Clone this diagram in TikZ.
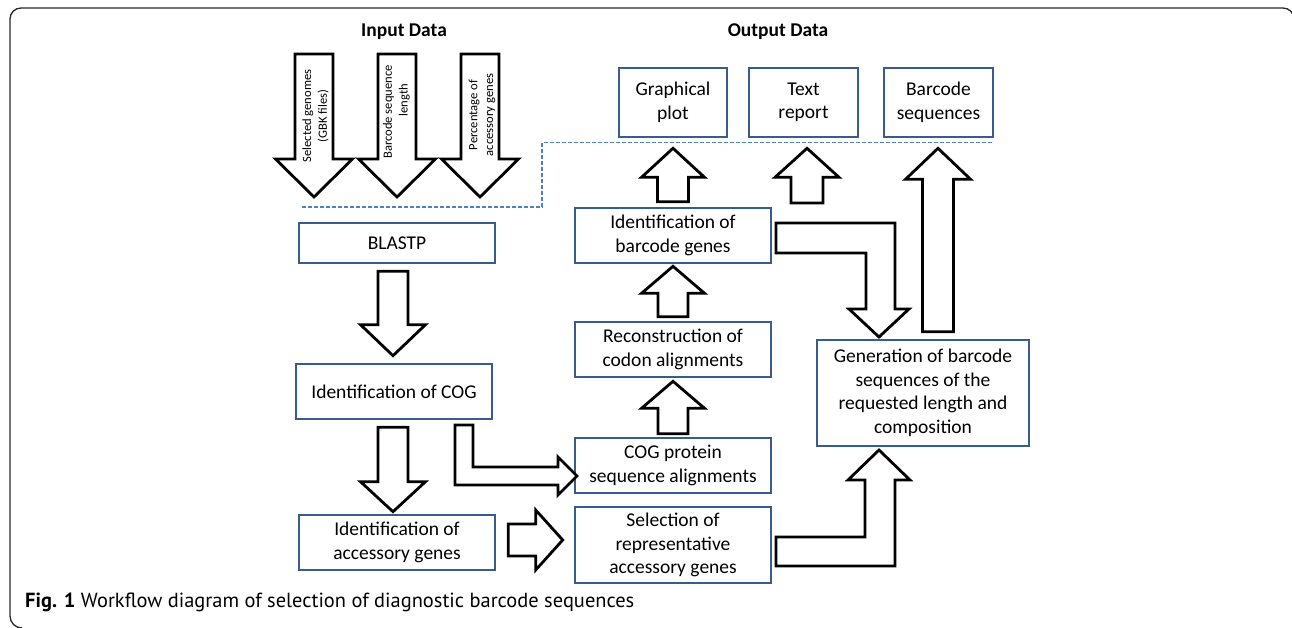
\documentclass[tikz,border=0pt]{standalone}
\usepackage{graphicx}
\usepackage{fontspec}
\setmainfont{Carlito}
\newfontfamily\capfont{PT Sans}
\usetikzlibrary{calc}
\definecolor{boxblue}{RGB}{56,93,138}
\definecolor{dashblue}{RGB}{79,129,189}
\definecolor{framegray}{RGB}{40,40,40}
% vertical / horizontal block arrows: #1 tail, #2 tip, #3 shaft half width, #4 head half width, #5 head length
\newcommand{\downblk}[5]{\draw[blk] let \p1=(#1), \p2=(#2) in
  (\x2-#3,\y1) -- (\x2+#3,\y1) -- (\x2+#3,\y2+#5) -- (\x2+#4,\y2+#5) -- (\x2,\y2)
  -- (\x2-#4,\y2+#5) -- (\x2-#3,\y2+#5) -- cycle;}
\newcommand{\upblk}[5]{\draw[blk] let \p1=(#1), \p2=(#2) in
  (\x2-#3,\y1) -- (\x2+#3,\y1) -- (\x2+#3,\y2-#5) -- (\x2+#4,\y2-#5) -- (\x2,\y2)
  -- (\x2-#4,\y2-#5) -- (\x2-#3,\y2-#5) -- cycle;}
\newcommand{\rightblk}[5]{\draw[blk] let \p1=(#1), \p2=(#2) in
  (\x1,\y2+#3) -- (\x2-#5,\y2+#3) -- (\x2-#5,\y2+#4) -- (\x2,\y2) -- (\x2-#5,\y2-#4)
  -- (\x2-#5,\y2-#3) -- (\x1,\y2-#3) -- cycle;}
\begin{document}
\begin{tikzpicture}[x=1pt,y=-1pt,
  box/.style={draw=boxblue, line width=2.6pt, fill=white, inner sep=0pt, align=center,
    font=\fontsize{19.5}{23.5}\selectfont},
  blk/.style={draw=black, line width=2.8pt, fill=white, line join=miter},
  rottext/.style={rotate=90, align=center, inner sep=0pt, font=\fontsize{12.6}{15.8}\selectfont},
  title/.style={font=\bfseries\fontsize{19.5}{23}\selectfont, inner sep=0pt},
  sepline/.style={draw=dashblue, line width=1.5pt, dash pattern=on 4pt off 2pt}]
\useasboundingbox (0,0) rectangle (1292,628);
% frame
\begin{scope}
\clip (0,0) rectangle (1292,628);
\draw[framegray, line width=1.3pt] (22,628) arc[start angle=90, end angle=180, radius=12]
  -- (10,19) arc[start angle=180, end angle=270, radius=11]
  -- (1283,8) arc[start angle=270, end angle=360, radius=11] -- (1294,40);
\end{scope}
% titles
\node[title] (inp) at (404,32) {Input Data};
\node[title] (outp) at (778,32) {Output Data};
% separator line
\coordinate (s1) at (302,207);
\coordinate (s2) at (542,207);
\coordinate (s3) at (542,142.5);
\coordinate (s4) at (992,142.5);
\draw[sepline] (s1) -- (s2) -- (s3) -- (s4);
% input arrows
\downblk{314,54}{314,197}{19pt}{38.5pt}{38pt}
\downblk{397,54}{397,197}{19pt}{38.5pt}{38pt}
\downblk{480,54}{480,197}{19pt}{38.5pt}{38pt}
\node[rottext] (in1) at (315.5,116) {Selected genomes\\(GBK files)};
\node[rottext] (in2) at (396.5,112) {Barcode sequence\\\hspace*{24pt}length};
\node[rottext] (in3) at (482,115) {Percentage of\\accessory genes};
% boxes
\node[box, minimum width=196pt, minimum height=40pt] (blast) at (397,243) {BLASTP};
\node[box, minimum width=196pt, minimum height=55pt] (cog) at (394,391.5) {Identification of COG};
\node[box, minimum width=196pt, minimum height=55pt] (acc) at (397,542.5) {Identification of\\accessory genes};
\node[box, minimum width=196pt, minimum height=55pt] (cogp) at (673,465.5) {COG protein\\sequence alignments};
\node[box, minimum width=196pt, minimum height=76pt] (sel) at (673,545) {Selection of\\representative\\accessory genes};
\node[box, minimum width=196pt, minimum height=55pt] (rec) at (673,349.5) {Reconstruction of\\codon alignments};
\node[box, minimum width=196pt, minimum height=55pt] (idb) at (673,235.5) {Identification of\\barcode genes};
\node[box, minimum width=212pt, minimum height=106pt] (gen) at (923,393) {Generation of barcode\\sequences of the\\requested length and\\composition};
\node[box, minimum width=108pt, minimum height=69pt] (gp) at (673,102.5) {Graphical\\plot};
\node[box, minimum width=109pt, minimum height=69pt] (tr) at (803.5,102.5) {Text\\report};
\node[box, minimum width=109pt, minimum height=69pt] (bs) at (938.5,102.5) {Barcode\\sequences};
% straight block arrows
\downblk{$(blast.south)+(0,7)$}{$(cog.north)+(-1,-7)$}{15pt}{32.5pt}{31pt}
\downblk{$(cog.south)+(0,7)$}{$(acc.north)+(-4,-2)$}{15pt}{32.5pt}{30pt}
\upblk{$(cogp.north)+(0,-3)$}{$(rec.south)+(0,3)$}{15pt}{31.5pt}{27pt}
\upblk{$(rec.north)+(0,-4)$}{$(idb.south)+(0,2)$}{15pt}{31.5pt}{27pt}
\upblk{$(idb.north)+(0,-5)$}{$(gp.south)+(0,10)$}{15.5pt}{31.5pt}{29pt}
\coordinate (trt) at (807,203);
\upblk{trt}{$(tr.south)+(3.5,10)$}{16pt}{32pt}{29pt}
\upblk{$(gen.north)+(15,-7)$}{$(bs.south)+(-0.5,10)$}{15.5pt}{32.5pt}{31pt}
\rightblk{$(acc.east)+(12,0)$}{$(sel.west)+(-11,-5)$}{16pt}{30pt}{27pt}
% bent block arrows
\draw[blk] (455,425) -- (473,425) -- (473,467) -- (558,467) -- (558,457) -- (577,476)
  -- (558,495) -- (558,485) -- (455,485) -- cycle;
\draw[blk] (776,223) -- (895,223) -- (895,309) -- (909,309) -- (879,337) -- (849,309)
  -- (866,309) -- (866,253) -- (776,253) -- cycle;
\draw[blk] (776,566) -- (895,566) -- (895,480) -- (910,480) -- (879,450) -- (848,480)
  -- (865,480) -- (865,537) -- (776,537) -- cycle;
% caption
\node[anchor=base west, inner sep=0pt] (cap) at (25,607)
  {\resizebox{609pt}{!}{\capfont\fontsize{16}{19}\selectfont\textbf{Fig. 1} Workflow diagram of selection of diagnostic barcode sequences}};
\end{tikzpicture}
\end{document}
